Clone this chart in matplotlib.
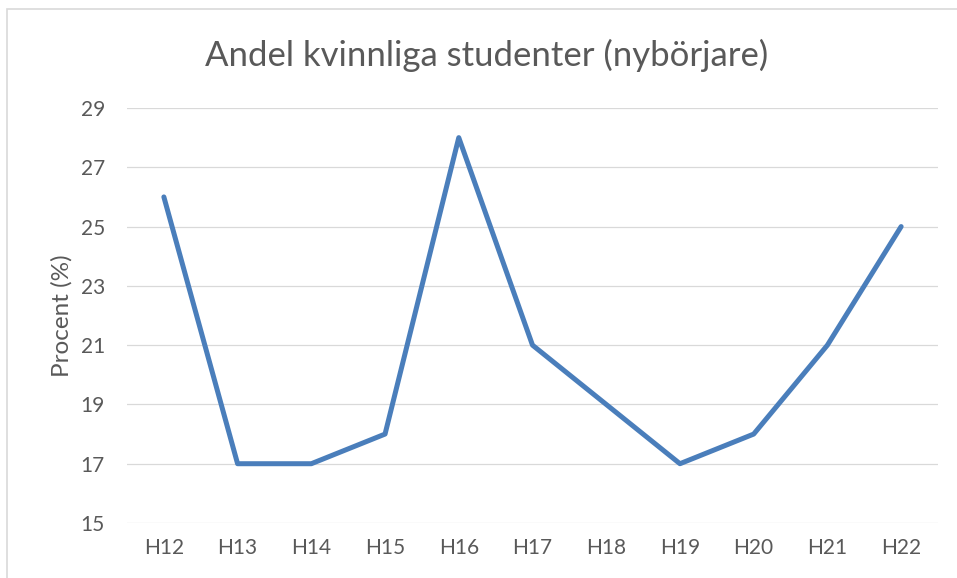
import matplotlib.pyplot as plt
from matplotlib.patches import Rectangle

terms = ["H12", "H13", "H14", "H15", "H16", "H17", "H18", "H19", "H20", "H21", "H22"]
share = [26, 17, 17, 18, 28, 21, 19, 17, 18, 21, 25]
yticks = [15, 17, 19, 21, 23, 25, 27, 29]

plt.rcParams['font.family'] = ['Lato', 'DejaVu Sans']
txt = '#595959'

W, H = 957, 578
fig = plt.figure(figsize=(W / 100, H / 100), dpi=100)
ax = fig.add_axes([127 / W, 1 - 523 / H, (938 - 127) / W, (523 - 108) / H])

x = range(len(terms))
ax.plot(x, share, color='#4A7EBB', linewidth=3.6,
        solid_joinstyle='round', solid_capstyle='round')

ax.set_xlim(-0.5, len(terms) - 0.5)
ax.set_ylim(15, 29)
ax.set_yticks(yticks)
ax.set_xticks(list(x))
ax.set_xticklabels(terms)
ax.grid(axis='y', color='#d9d9d9', linewidth=0.9)
ax.set_axisbelow(True)
for s in ax.spines.values():
    s.set_visible(False)
ax.tick_params(length=0, colors=txt, labelsize=15)
ax.tick_params(axis='x', pad=11)
ax.tick_params(axis='y', pad=16)
ax.set_ylabel("Procent (%)", color=txt, fontsize=17.5, labelpad=6)

fig.text(487 / W, 1 - 55 / H, "Andel kvinnliga studenter (nybörjare)",
         ha='center', va='center', color=txt, fontsize=25)

fig.patches.append(Rectangle((7 / W, -0.1), 1.2, 1.1 - 9 / H,
                             transform=fig.transFigure, fill=False,
                             edgecolor='#d9d9d9', linewidth=1.2))

fig.savefig("out.png", dpi=100, facecolor='white')
